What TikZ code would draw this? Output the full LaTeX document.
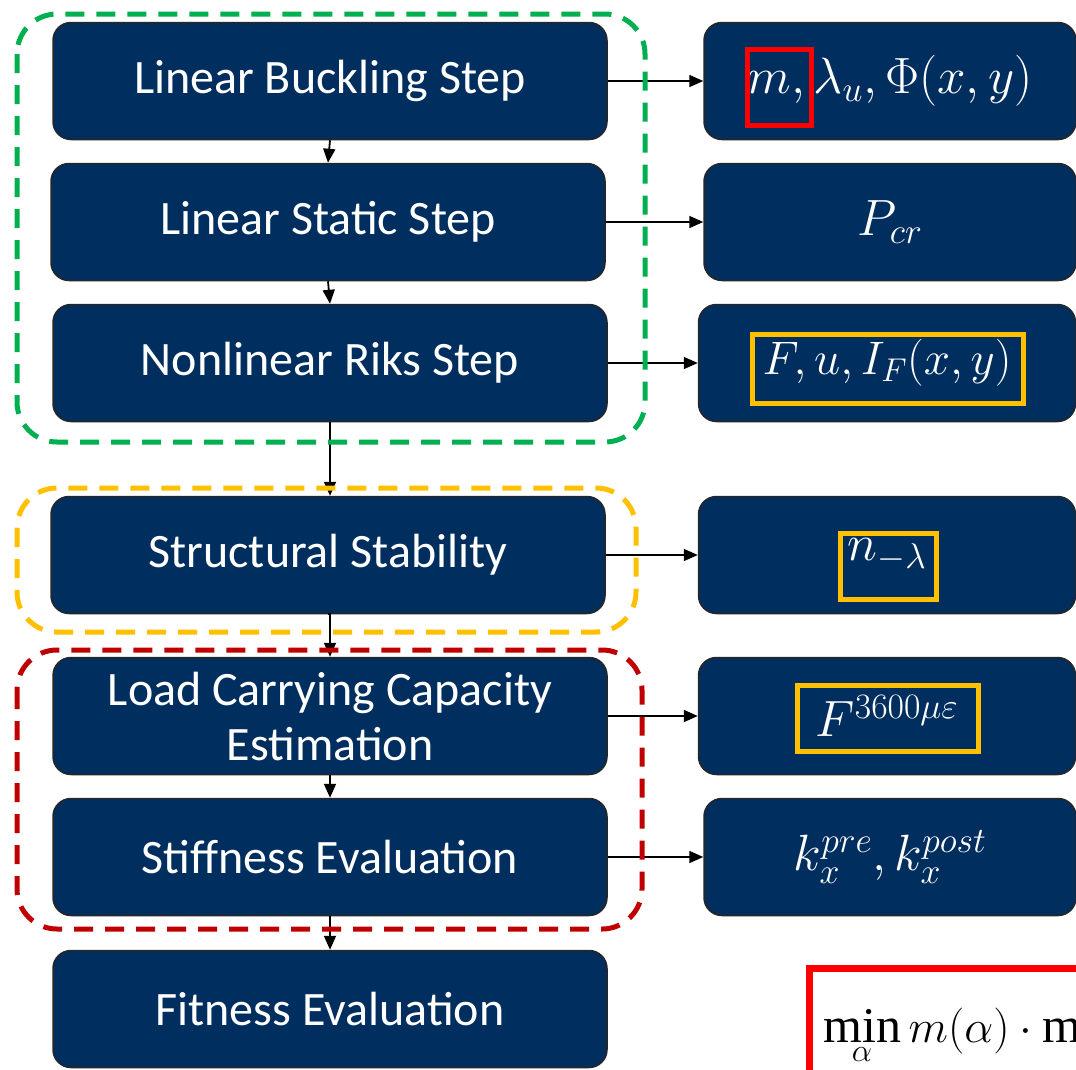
\RequirePackage{fix-cm}
\documentclass[tikz,border=0pt]{standalone}
\usepackage[no-math]{fontspec}
\setmainfont{Carlito}
\newfontfamily\opfont{Liberation Serif}
\usetikzlibrary{arrows.meta}
\definecolor{navy}{HTML}{002E5E}
\definecolor{grpgreen}{HTML}{00B050}
\definecolor{grpyellow}{HTML}{FFC000}
\definecolor{grpred}{HTML}{C00000}
\definecolor{hlred}{HTML}{FF0000}
\definecolor{hlyellow}{HTML}{FFC000}
% upright operator name set in a text serif
\newcommand{\opname}[1]{\mathop{\hbox{\opfont\fontsize{50}{56}\selectfont #1}}}
\begin{document}
\begin{tikzpicture}[x=1pt,y=-1pt,
  stepbox/.style={draw=black!85, line width=1.5pt, fill=navy, rounded corners=18pt,
    minimum width=554pt, minimum height=117pt, text=white, align=center, inner sep=0pt,
    font=\fontsize{48}{55}\selectfont},
  outbox/.style={stepbox, minimum width=372pt, font=\fontsize{51}{57}\selectfont},
  conn/.style={-{Triangle[length=14pt,width=12pt]}, line width=1.8pt},
  grp/.style={dash pattern=on 19pt off 12pt, line width=5pt, rounded corners=40pt},
  hl/.style={line width=5pt}]
\useasboundingbox (0,0) rectangle (1076,1069);
\clip (0,0) rectangle (1076,1069);

% process steps
\node[stepbox] (lb)  at (330,81)   {Linear Buckling Step};
\node[stepbox] (ls)  at (328,222)  {Linear Static Step};
\node[stepbox] (nr)  at (330,363)  {Nonlinear Riks Step};
\node[stepbox] (ss)  at (328,555)  {Structural Stability};
\node[stepbox] (lc)  at (330,716)  {Load Carrying Capacity\\Estimation};
\node[stepbox] (se)  at (330,857)  {Stiffness Evaluation};
\node[stepbox] (fe)  at (330,1009) {Fitness Evaluation};

% outputs of each step
\node[outbox] (olb) at (890,81)  {$m,\lambda_u,\Phi(x,y)$};
\node[outbox] (ols) at (890,222) {$P_{cr}$};
\node[outbox, minimum width=377pt, font=\fontsize{47}{53}\selectfont] (onr) at (887,363) {$F,u,I_F(x,y)$};
\node[outbox, minimum width=377pt] (oss) at (887,555) {$n_{-\lambda}$};
\node[outbox, minimum width=377pt] (olc) at (887,716) {$F^{3600\mu\varepsilon}$};
\node[outbox] (ose) at (890,857) {$k_x^{pre},k_x^{post}$};

% highlighted quantities
\draw[hl, hlred]    (747,49)  rectangle (811,125);
\draw[hl, hlyellow] (752,334) rectangle (1023,403);
\draw[hl, hlyellow] (840,533) rectangle (936,599);
\draw[hl, hlyellow] (797,685) rectangle (978,751);

% flow down the steps
\draw[conn] (lb.south) -- (ls.north);
\draw[conn] (ls.south) -- (nr.north);
\draw[conn] (nr.south) -- (nr.south |- ss.north);
\draw[conn] (ss.south) -- (ss.south -| lc.north) -- (lc.north);
\draw[conn] (lc.south) -- (se.north);
\draw[conn] (se.south) -- (fe.north);

% step outputs
\draw[conn] (lb.east) -- (olb.west);
\draw[conn] (ls.east) -- (ols.west);
\draw[conn] (nr.east) -- (onr.west);
\draw[conn] (ss.east) -- (oss.west);
\draw[conn] (lc.east) -- (olc.west);
\draw[conn] (se.east) -- (ose.west);

% groups of steps
\draw[grp, grpgreen]  (17,14)  rectangle (645,442);
\draw[grp, grpyellow] (17,488) rectangle (636,632);
\draw[grp, grpred]    (17,650) rectangle (642,929);

% objective
\draw[line width=7pt, hlred] (809,1100) -- (809,968) -- (1100,968);
\node[anchor=base west, inner sep=0pt, font=\fontsize{46}{52}\selectfont] (obj) at (823,1042)
  {$\displaystyle\opname{min}\limits_{\raisebox{-13pt}{$\scriptstyle\alpha$}} m(\alpha)\cdot\opname{max}$};
\end{tikzpicture}
\end{document}
